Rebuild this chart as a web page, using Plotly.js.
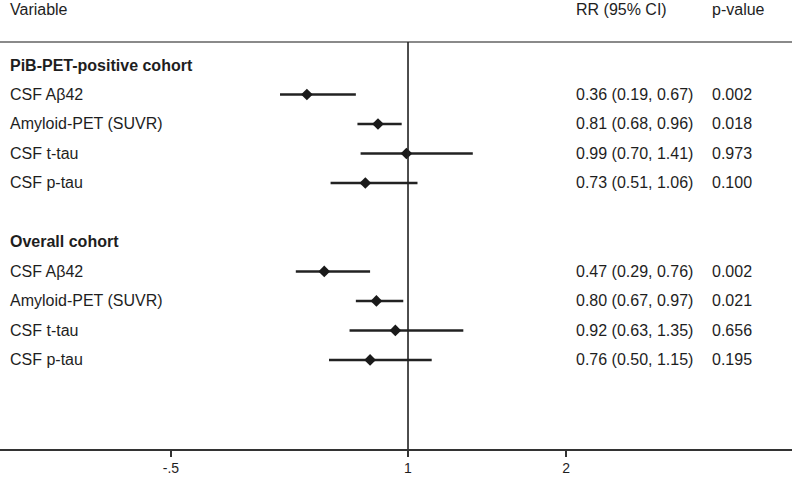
<!DOCTYPE html>
<html>
<head>
<meta charset="utf-8">
<script src="https://cdn.plot.ly/plotly-3.0.1.min.js"></script>
<style>html,body{margin:0;padding:0;background:#fff;}#chart{width:792px;height:477px;}</style>
</head>
<body>
<div id="chart"></div>
<script>
// ---- data ----
const groupTitles = ["PiB-PET-positive cohort", "Overall cohort"];
const variables = ["CSF A\u03b242", "Amyloid-PET (SUVR)", "CSF t-tau", "CSF p-tau"];
const rrPositive = [0.36, 0.81, 0.99, 0.73];
const loPositive = [0.19, 0.68, 0.70, 0.51];
const hiPositive = [0.67, 0.96, 1.41, 1.06];
const pPositive = ["0.002", "0.018", "0.973", "0.100"];
const rrOverall = [0.47, 0.80, 0.92, 0.76];
const loOverall = [0.29, 0.67, 0.63, 0.50];
const hiOverall = [0.76, 0.97, 1.35, 1.15];
const pOverall = ["0.002", "0.021", "0.656", "0.195"];
const headers = ["Variable", "RR (95% CI)", "p-value"];
const tickVals = [-0.5, 1, 2];
const tickText = ["-.5", "1", "2"];

// ---- build rows ----
const groups = [
  {title: groupTitles[0], rr: rrPositive, lo: loPositive, hi: hiPositive, p: pPositive},
  {title: groupTitles[1], rr: rrOverall, lo: loOverall, hi: hiOverall, p: pOverall}
];
const FONT = "Liberation Sans, Arial, sans-serif";
const TXT = "#1e1e1e";
const xs = [], ys = [], ePlus = [], eMinus = [];
const annotations = [];
let row = 0;
groups.forEach((g, gi) => {
  annotations.push({xref: "paper", yref: "y", x: 0.0105, y: row, xanchor: "left", yanchor: "middle",
    text: "<b>" + g.title + "</b>", showarrow: false, font: {family: FONT, size: 16, color: TXT}});
  row++;
  g.rr.forEach((v, i) => {
    xs.push(v); ys.push(row);
    ePlus.push(g.hi[i] - v); eMinus.push(v - g.lo[i]);
    annotations.push({xref: "paper", yref: "y", x: 0.0105, y: row, xanchor: "left", yanchor: "middle",
      text: variables[i], showarrow: false, font: {family: FONT, size: 16, color: TXT}});
    annotations.push({xref: "paper", yref: "y", x: 0.7245, y: row, xanchor: "left", yanchor: "middle",
      text: v.toFixed(2) + " (" + g.lo[i].toFixed(2) + ", " + g.hi[i].toFixed(2) + ")",
      showarrow: false, font: {family: FONT, size: 16, color: TXT}});
    annotations.push({xref: "paper", yref: "y", x: 0.896, y: row, xanchor: "left", yanchor: "middle",
      text: g.p[i], showarrow: false, font: {family: FONT, size: 16, color: TXT}});
    row++;
  });
  row++;
});
const headerX = [0.0105, 0.7245, 0.896];
headers.forEach((h, i) => {
  annotations.push({xref: "paper", yref: "paper", x: headerX[i], y: 1.081, xanchor: "left", yanchor: "middle",
    text: h, showarrow: false, font: {family: FONT, size: 16, color: TXT}});
});

const trace = {
  type: "scatter", mode: "markers", x: xs, y: ys,
  marker: {symbol: "diamond", size: 9, color: "#1a1a1a"},
  error_x: {type: "data", symmetric: false, array: ePlus, arrayminus: eMinus,
    width: 0, thickness: 2.6, color: "#222"},
  hoverinfo: "skip", showlegend: false, cliponaxis: false
};

const layout = {
  width: 792, height: 477,
  margin: {l: 0, r: 0, t: 42, b: 28, pad: 0},
  paper_bgcolor: "#fff", plot_bgcolor: "#fff",
  showlegend: false,
  xaxis: {
    range: [-1.582, 3.43], showgrid: false, zeroline: false,
    showline: true, linecolor: "#333", linewidth: 1.6,
    ticks: "outside", ticklen: 6, tickwidth: 1.4, tickcolor: "#333",
    tickvals: tickVals, ticktext: tickText, ticklabelstandoff: 0,
    tickfont: {family: FONT, size: 14, color: TXT}
  },
  yaxis: {
    range: [13.02, -0.78], showgrid: false, zeroline: false, showline: false,
    showticklabels: false, ticks: ""
  },
  shapes: [
    {type: "line", xref: "paper", yref: "paper", x0: 0, x1: 1, y0: 1, y1: 1,
      line: {color: "#8a8a8a", width: 2}},
    {type: "line", xref: "x", yref: "paper", x0: 1, x1: 1, y0: 0, y1: 1,
      line: {color: "#222", width: 1.6}}
  ],
  annotations: annotations
};

Plotly.newPlot("chart", [trace], layout, {displayModeBar: false, staticPlot: true});
</script>
</body>
</html>
